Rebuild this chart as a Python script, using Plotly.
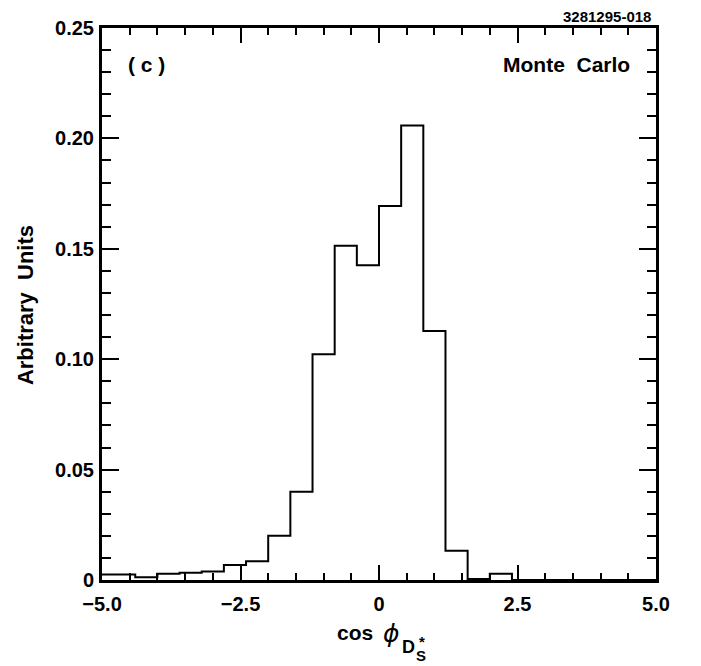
import plotly.graph_objects as go

# histogram contents, bins of width 0.4 starting at -5.2
bin_start = -5.2
bin_width = 0.4
counts = [0.0025, 0.0025, 0.0012, 0.0028, 0.0033, 0.0038, 0.0068, 0.0085,
          0.0200, 0.0400, 0.1022, 0.1514, 0.1426, 0.1694, 0.2058, 0.1128,
          0.0132, 0.0004, 0.0028, 0.0, 0.0, 0.0, 0.0, 0.0, 0.0, 0.0]

x_tickvals = [-5, -2.5, 0, 2.5, 5]
x_ticktext = ["\u22125.0", "\u22122.5", "0", "2.5", "5.0"]
y_tickvals = [0, 0.05, 0.10, 0.15, 0.20, 0.25]
y_ticktext = ["0", "0.05", "0.10", "0.15", "0.20", "0.25"]

edges = [round(bin_start + i * bin_width, 2) for i in range(len(counts) + 1)]
xs = edges
ys = counts + [counts[-1]]

FONT = "Liberation Sans, Arial, sans-serif"

fig = go.Figure()
fig.add_trace(go.Scatter(x=xs, y=ys, mode="lines", line_shape="hv",
                         line=dict(color="black", width=2),
                         showlegend=False, hoverinfo="skip"))

axis_common = dict(showline=True, linecolor="black", linewidth=3,
                   mirror="allticks", ticks="inside", tickwidth=2,
                   tickcolor="black", showgrid=False, zeroline=False,
                   tickfont=dict(family=FONT, size=20, color="black", weight="bold"))

fig.update_xaxes(range=[-5, 5], tickvals=x_tickvals, ticktext=x_ticktext,
                 ticklen=15, ticklabelstandoff=4,
                 minor=dict(dtick=0.5, ticklen=7, tickwidth=2, tickcolor="black",
                            ticks="inside", showgrid=False),
                 **axis_common)
fig.update_yaxes(range=[0, 0.25], tickvals=y_tickvals, ticktext=y_ticktext,
                 ticklen=17, ticklabelstandoff=1,
                 minor=dict(dtick=0.01, ticklen=9, tickwidth=2, tickcolor="black",
                            ticks="inside", showgrid=False),
                 **axis_common)

bold = dict(family=FONT, color="black", weight="bold")
annotations = [
    dict(x=0.9946, y=1.02, xanchor="right", yanchor="middle", text="3281295-018",
         font=dict(size=15, **bold)),
    dict(x=0.0433, y=0.933, xanchor="left", yanchor="middle", text="( c )",
         font=dict(size=21, **bold)),
    dict(x=0.9567, y=0.933, xanchor="right", yanchor="middle", text="Monte&nbsp;&nbsp;Carlo",
         font=dict(size=21, **bold)),
    dict(x=-0.139, y=0.498, xanchor="center", yanchor="middle", textangle=-90,
         text="Arbitrary&nbsp;&nbsp;Units", font=dict(size=22, **bold)),
    dict(x=0.4558, y=-0.095, xanchor="center", yanchor="middle", text="cos",
         font=dict(size=21, **bold)),
    dict(x=0.5217, y=-0.097, xanchor="center", yanchor="middle", text="<i>\u03d5</i>",
         font=dict(family="DejaVu Sans", size=25, color="black")),
    dict(x=0.5532, y=-0.122, xanchor="center", yanchor="middle", text="D",
         font=dict(size=18, **bold)),
    dict(x=0.5785, y=-0.111, xanchor="center", yanchor="middle", text="*",
         font=dict(size=15, **bold)),
    dict(x=0.5767, y=-0.136, xanchor="center", yanchor="middle", text="S",
         font=dict(size=15, **bold)),
]
for a in annotations:
    a.update(xref="paper", yref="paper", showarrow=False)

# the page body has an 8px margin, so shrink the figure to keep the plot frame
# where it sits in the original (frame: x 102-656, y 28-580)
fig.update_layout(width=693, height=658, plot_bgcolor="white", paper_bgcolor="white",
                  margin=dict(l=94, r=45, t=20, b=86, autoexpand=False),
                  annotations=annotations, showlegend=False)

fig.write_html("out.html")
